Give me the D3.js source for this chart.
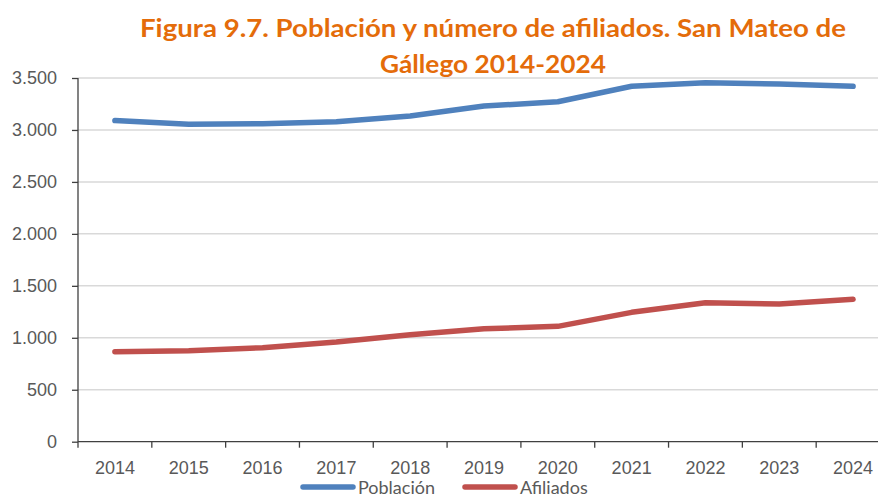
<!DOCTYPE html>
<html>
<head>
<meta charset="utf-8">
<script src="https://cdn.jsdelivr.net/npm/d3@7"></script>
<style>
  body { margin: 0; background: #fff; }
  svg { display: block; font-family: Lato, "Open Sans", sans-serif; }
  .axis text { fill: #595959; font-size: 18px; }
  .axis path, .axis line { stroke: #404040; stroke-width: 1.3px; }
  .grid line { stroke: #d9d9d9; stroke-width: 1.5px; }
</style>
</head>
<body>
<div id="chart"></div>
<script>
// values
var years = ["2014", "2015", "2016", "2017", "2018", "2019", "2020", "2021", "2022", "2023", "2024"];
var poblacion = [3090, 3054, 3060, 3078, 3135, 3230, 3272, 3420, 3455, 3443, 3420];
var afiliados = [866, 876, 905, 959, 1030, 1087, 1110, 1245, 1338, 1325, 1370];
var yTicks = [0, 500, 1000, 1500, 2000, 2500, 3000, 3500];
var titleLines = ["Figura 9.7. Población y número de afiliados. San Mateo de", "Gállego 2014-2024"];
var seriesNames = ["Población", "Afiliados"];
var seriesColors = ["#4f81bd", "#c0504d"];

(function drawChart() {
	var W = 878, H = 495;
	var plot = {left: 78, right: 890, top: 78, bottom: 441.7};

	var svg = d3.select("#chart").append("svg")
		.attr("width", W)
		.attr("height", H);

	var x = d3.scaleBand()
		.domain(years)
		.range([plot.left, plot.right]);

	var y = d3.scaleLinear()
		.domain([0, 3500])
		.range([plot.bottom, plot.top]);

	var fmt = function(d) { return d3.format(",")(d).replace(/,/g, "."); };

	// horizontal gridlines
	svg.append("g")
		.attr("class", "grid")
		.selectAll("line")
		.data(yTicks.filter(function(d) { return d > 0; }))
		.enter().append("line")
			.attr("x1", plot.left)
			.attr("x2", plot.right)
			.attr("y1", function(d) { return y(d); })
			.attr("y2", function(d) { return y(d); });

	// y axis
	var yAxis = svg.append("g")
		.attr("class", "axis axis-y")
		.attr("transform", "translate(" + plot.left + ",0)")
		.call(d3.axisLeft(y).tickValues(yTicks).tickFormat(fmt).tickSize(6).tickSizeOuter(0).tickPadding(15));
	yAxis.select(".domain").attr("d", "M0," + plot.top + "V" + (plot.bottom + 6));

	// x axis, ticks between categories
	var xAxis = svg.append("g")
		.attr("class", "axis axis-x")
		.attr("transform", "translate(0," + plot.bottom + ")")
		.call(d3.axisBottom(x).tickSize(0).tickPadding(20));
	xAxis.select(".domain").attr("d", "M" + plot.left + ",0H" + plot.right);
	xAxis.selectAll(".sep")
		.data(years.slice(1))
		.enter().append("line")
			.attr("class", "sep")
			.attr("x1", function(d) { return x(d); })
			.attr("x2", function(d) { return x(d); })
			.attr("y1", 0)
			.attr("y2", 6);

	// lines
	var line = d3.line()
		.x(function(d, i) { return x(years[i]) + x.bandwidth() / 2; })
		.y(function(d) { return y(d); });

	[poblacion, afiliados].forEach(function(series, k) {
		svg.append("path")
			.datum(series)
			.attr("fill", "none")
			.attr("stroke", seriesColors[k])
			.attr("stroke-width", 5.5)
			.attr("stroke-linecap", "round")
			.attr("stroke-linejoin", "round")
			.attr("d", line);
	});

	// title
	svg.append("g").selectAll("text")
		.data(titleLines)
		.enter().append("text")
			.attr("x", function(d, i) { return i === 0 ? 140 : 380; })
			.attr("y", function(d, i) { return 37 + i * 36; })
			.attr("textLength", function(d, i) { return i === 0 ? 706 : 226; })
			.attr("lengthAdjust", "spacingAndGlyphs")
			.style("font-size", "25px")
			.style("font-weight", "bold")
			.style("fill", "#e46c0a")
			.text(function(d) { return d; });

	// legend (sits on the bottom edge, as in the reference)
	var legendX = [300, 462];
	var leg = svg.append("g").selectAll("g")
		.data(seriesNames)
		.enter().append("g")
			.attr("transform", function(d, i) { return "translate(" + legendX[i] + ",487)"; });
	leg.append("line")
		.attr("x1", 3).attr("x2", 53)
		.attr("stroke", function(d, i) { return seriesColors[i]; })
		.attr("stroke-width", 5.5)
		.attr("stroke-linecap", "round");
	leg.append("text")
		.attr("x", 58)
		.attr("y", 7)
		.style("font-size", "18px")
		.style("fill", "#595959")
		.text(function(d) { return d; });
})();
</script>
</body>
</html>
